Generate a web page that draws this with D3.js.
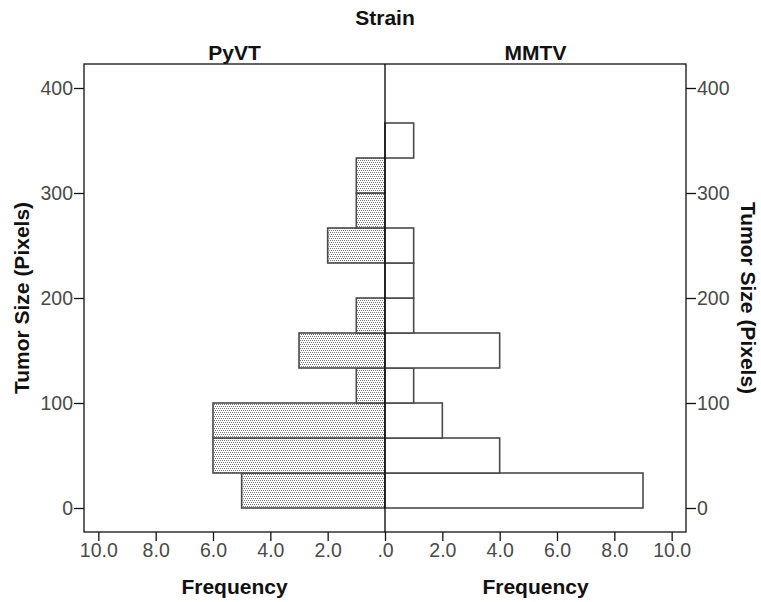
<!DOCTYPE html>
<html>
<head>
<meta charset="utf-8">
<script src="https://cdn.jsdelivr.net/npm/d3@7/dist/d3.min.js"></script>
<style>
  html, body { margin: 0; padding: 0; background: #fff; }
  svg { display: block; font-family: "Liberation Sans", Arial, sans-serif; }
  .tick-label { font-size: 19.5px; fill: #4a4a4a; }
  .title { font-size: 21px; font-weight: bold; fill: #111; }
</style>
</head>
<body>
<svg id="chart" width="761" height="602"></svg>
<script>
// Histogram bin edges of tumor size (pixels)
const binEdges = [0, 33.33, 66.67, 100, 133.33, 166.67, 200, 233.33, 266.67, 300, 333.33, 366.67];
// Frequencies per bin for each strain
const pyvtCounts = [5, 6, 6, 1, 3, 1, 0, 2, 1, 1, 0];
const mmtvCounts = [9, 4, 2, 1, 4, 1, 1, 1, 0, 0, 1];
const strains = ["PyVT", "MMTV"];
const sizeTicks = [0, 100, 200, 300, 400];
const freqTicks = [0, 2, 4, 6, 8, 10];

const svg = d3.select("#chart");

const frame = { left: 84, right: 686, top: 64, bottom: 532 };
const center = 385;

const y = d3.scaleLinear().domain([-22.857, 422.857]).range([frame.bottom, frame.top]);
const xLeft = d3.scaleLinear().domain([0, 10.5]).range([center, frame.left]);
const xRight = d3.scaleLinear().domain([0, 10.5]).range([center, frame.right]);

// dotted fill for the PyVT side
const defs = svg.append("defs");
const pat = defs.append("pattern")
  .attr("id", "dots").attr("patternUnits", "userSpaceOnUse")
  .attr("width", 4).attr("height", 4);
pat.append("rect").attr("width", 4).attr("height", 4).attr("fill", "#fff");
[[0, 0], [2, 0], [1, 2], [3, 2]].forEach(([px, py]) => {
  pat.append("rect").attr("x", px).attr("y", py).attr("width", 1).attr("height", 1).attr("fill", "#777");
});

const bins = pyvtCounts.map((_, i) => ({
  lo: binEdges[i], hi: binEdges[i + 1], pyvt: pyvtCounts[i], mmtv: mmtvCounts[i]
}));

// PyVT bars (extend left)
svg.append("g").selectAll("rect")
  .data(bins.filter(d => d.pyvt > 0))
  .join("rect")
  .attr("x", d => xLeft(d.pyvt))
  .attr("y", d => y(d.hi))
  .attr("width", d => xLeft(0) - xLeft(d.pyvt))
  .attr("height", d => y(d.lo) - y(d.hi))
  .attr("fill", "url(#dots)")
  .attr("stroke", "#4a4a4a")
  .attr("stroke-width", 1.6);

// MMTV bars (extend right)
svg.append("g").selectAll("rect")
  .data(bins.filter(d => d.mmtv > 0))
  .join("rect")
  .attr("x", xRight(0))
  .attr("y", d => y(d.hi))
  .attr("width", d => xRight(d.mmtv) - xRight(0))
  .attr("height", d => y(d.lo) - y(d.hi))
  .attr("fill", "#fff")
  .attr("stroke", "#4a4a4a")
  .attr("stroke-width", 1.6);

// frame and center divider
svg.append("rect")
  .attr("x", frame.left).attr("y", frame.top)
  .attr("width", frame.right - frame.left).attr("height", frame.bottom - frame.top)
  .attr("fill", "none").attr("stroke", "#111").attr("stroke-width", 1.3);
svg.append("line")
  .attr("x1", center).attr("x2", center).attr("y1", frame.top).attr("y2", frame.bottom)
  .attr("stroke", "#000").attr("stroke-width", 1.3);

function styleAxis(g) {
  g.select(".domain").remove();
  g.selectAll(".tick line").attr("stroke", "#111").attr("stroke-width", 1.3);
  g.selectAll(".tick text").attr("class", "tick-label").attr("font-family", null).attr("font-size", null).attr("fill", null);
}

// size axes on both sides
svg.append("g").attr("transform", `translate(${frame.left},0)`)
  .call(d3.axisLeft(y).tickValues(sizeTicks).tickSize(10).tickPadding(1))
  .call(styleAxis);
svg.append("g").attr("transform", `translate(${frame.right},0)`)
  .call(d3.axisRight(y).tickValues(sizeTicks).tickSize(10).tickPadding(1))
  .call(styleAxis);

// frequency axes
const fmt = d => d === 0 ? ".0" : d3.format(".1f")(d);
svg.append("g").attr("transform", `translate(0,${frame.bottom})`)
  .call(d3.axisBottom(xLeft).tickValues(freqTicks).tickFormat(fmt).tickSize(9).tickPadding(2))
  .call(styleAxis);
svg.append("g").attr("transform", `translate(0,${frame.bottom})`)
  .call(d3.axisBottom(xRight).tickValues(freqTicks.filter(d => d > 0)).tickFormat(fmt).tickSize(9).tickPadding(2))
  .call(styleAxis);

// titles
const leftMid = (frame.left + center) / 2;
const rightMid = (center + frame.right) / 2;
svg.append("text").attr("class", "title").attr("x", center).attr("y", 25).attr("text-anchor", "middle").text("Strain");
svg.append("text").attr("class", "title").attr("x", leftMid).attr("y", 60).attr("text-anchor", "middle").text(strains[0]);
svg.append("text").attr("class", "title").attr("x", rightMid).attr("y", 60).attr("text-anchor", "middle").text(strains[1]);
svg.append("text").attr("class", "title").attr("x", leftMid).attr("y", 594).attr("text-anchor", "middle").text("Frequency");
svg.append("text").attr("class", "title").attr("x", rightMid).attr("y", 594).attr("text-anchor", "middle").text("Frequency");

const midY = (frame.top + frame.bottom) / 2;
svg.append("text").attr("class", "title").attr("text-anchor", "middle")
  .attr("transform", `translate(29,${midY}) rotate(-90)`).text("Tumor Size (Pixels)");
svg.append("text").attr("class", "title").attr("text-anchor", "middle")
  .attr("transform", `translate(741,${midY}) rotate(90)`).text("Tumor Size (Pixels)");
</script>
</body>
</html>
